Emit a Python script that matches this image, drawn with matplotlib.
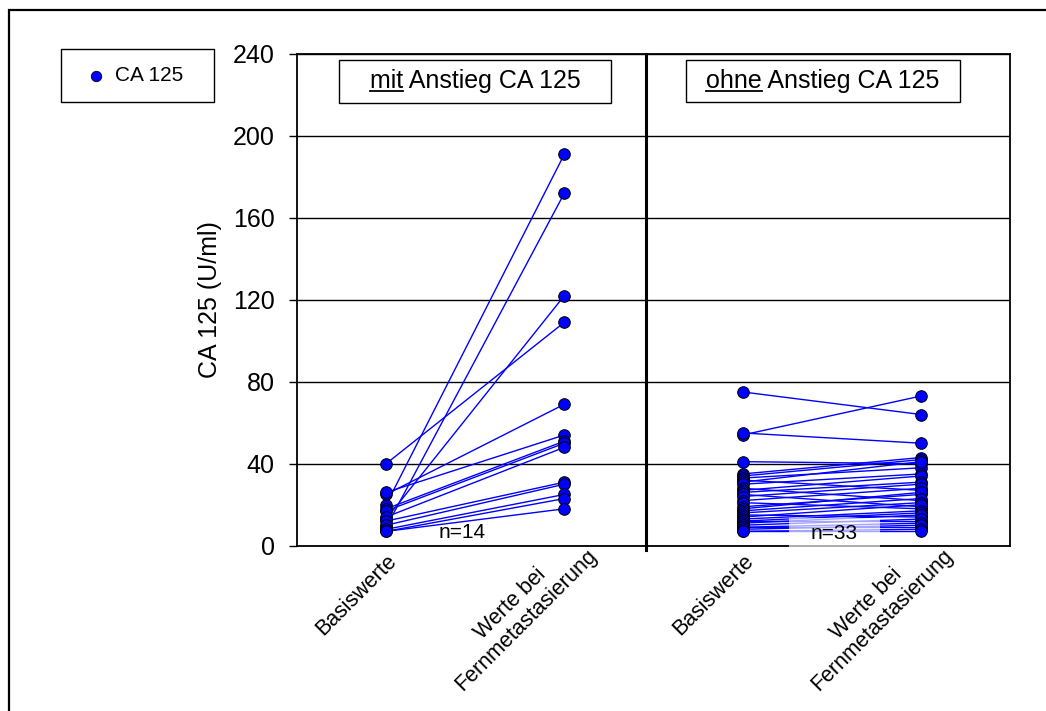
import numpy as np
import matplotlib.pyplot as plt
from matplotlib.patches import Rectangle
from matplotlib.lines import Line2D
from matplotlib.transforms import ScaledTranslation

plt.rcParams['font.family'] = ['Liberation Sans', 'DejaVu Sans']

# CA 125 (U/ml) per patient: baseline vs. value at distant metastasis
mit_basis = [40, 20, 9, 13, 25, 26, 18, 17, 14, 12, 10, 8, 7, 7]
mit_fern = [109, 191, 172, 122, 69, 54, 51, 50, 48, 31, 30, 25, 23, 18]

ohne_basis = [75, 54, 55, 41, 35, 34, 33, 32, 31, 30, 28, 27, 26, 25, 24, 22, 21,
              19, 18, 17, 16, 15, 14, 13, 12, 12, 11, 10, 9, 9, 8, 7, 7]
ohne_fern = [64, 73, 50, 40, 43, 42, 38, 27, 41, 35, 22, 34, 31, 19, 30, 28, 18,
             25, 26, 23, 21, 14, 20, 17, 16, 12, 15, 13, 9, 11, 10, 8, 7]

categories = ['Basiswerte', 'Werte bei\nFernmetastasierung',
              'Basiswerte', 'Werte bei\nFernmetastasierung']
panel_titles = [('mit', ' Anstieg CA 125'), ('ohne', ' Anstieg CA 125')]
y_ticks = [0, 40, 80, 120, 160, 200, 240]

BLUE = '#0000FF'

fig = plt.figure(figsize=(10.46, 7.11), dpi=100)
ax = fig.add_axes([297 / 1046, 1 - 545.7 / 711, 713 / 1046, 492 / 711])

x_pos = np.arange(1, len(categories) + 1)

# paired lines first, dots on top
for basis, fern, (x0, x1) in [(mit_basis, mit_fern, x_pos[:2]),
                              (ohne_basis, ohne_fern, x_pos[2:])]:
    for b, f in zip(basis, fern):
        ax.plot([x0, x1], [b, f], color=BLUE, lw=1.0, zorder=3)
    ax.scatter(np.full(len(basis), x0), basis, s=70, color=BLUE,
               edgecolors='black', linewidths=0.7, zorder=4)
    ax.scatter(np.full(len(fern), x1), fern, s=70, color=BLUE,
               edgecolors='black', linewidths=0.7, zorder=4)

ax.set_xlim(0.5, 4.5)
ax.set_ylim(0, 240)
ax.set_yticks(y_ticks)
ax.yaxis.grid(True, color='black', lw=1.0, zorder=1)
ax.set_axisbelow(True)
ax.tick_params(axis='y', direction='out', length=6, width=1, labelsize=18, pad=10)
ax.tick_params(axis='x', length=0, pad=4)
for s in ax.spines.values():
    s.set_linewidth(1.3)

ax.set_ylabel('CA 125 (U/ml)', fontsize=18, labelpad=8)

ax.set_xticks(x_pos)
ax.set_xticklabels(categories, rotation=45, ha='right', va='top',
                   rotation_mode='anchor', fontsize=15.5, multialignment='center',
                   linespacing=1.1)
# rotated labels: single-line and two-line ones sit at different offsets
offsets = {1: (0, 1), 2: (6, 22)}
for lab in ax.get_xticklabels():
    n_lines = lab.get_text().count('\n') + 1
    dx, dy = offsets[n_lines]
    lab.set_transform(lab.get_transform() +
                      ScaledTranslation(dx / 100, dy / 100, fig.dpi_scale_trans))

# divider between the two groups
ax.plot([2.46, 2.46], [-2, 240], color='black', lw=2.2, clip_on=False, zorder=5)

# panel headers
headers = []
for xc, (word, rest), pad, asp in zip([1.5, 3.45], panel_titles,
                                      [1.22, 0.8], [0.3, 0.45]):
    t = ax.text(xc, 226.5, word + rest, fontsize=18, ha='center', va='center',
                zorder=6,
                bbox=dict(boxstyle='square,pad=%.2f' % pad, mutation_aspect=asp,
                          fc='white', ec='black', lw=1.0))
    headers.append((t, word))

# group sizes
ax.text(1.425, 4.0, 'n=14', fontsize=15, ha='center', va='baseline', zorder=6)
ax.text(3.515, 3.3, 'n=33', fontsize=15, ha='center', va='baseline', zorder=7,
        bbox=dict(boxstyle='square,pad=1.05', mutation_aspect=0.25,
                  fc='white', ec='none', alpha=0.65))

# legend box
fig.add_artist(Rectangle((61 / 1046, 1 - 102 / 711), 153 / 1046, 53 / 711,
                         transform=fig.transFigure, fill=False, ec='black', lw=1.0))
fig.add_artist(Line2D([96 / 1046], [1 - 75.5 / 711], transform=fig.transFigure,
                      marker='o', ms=7.5, mfc=BLUE, mec='black', mew=0.6, ls='none'))
fig.text(115 / 1046, 1 - 75.5 / 711, 'CA 125', fontsize=15, ha='left', va='center')

# outer frame (runs off the right and bottom edges)
fig.add_artist(Rectangle((9 / 1046, -0.1), 1.2, 0.1 + 1 - 10 / 711,
                         transform=fig.transFigure, fill=False, ec='black', lw=1.6))

# underline the first word of each header
fig.canvas.draw()
renderer = fig.canvas.get_renderer()
for t, word in headers:
    full = t.get_window_extent(renderer)
    probe = fig.text(0, 0, word, fontsize=18)
    w = probe.get_window_extent(renderer).width
    probe.remove()
    y_line = full.y0 + 2.0
    inv = fig.transFigure.inverted()
    (fx0, fy), (fx1, _) = inv.transform([(full.x0, y_line), (full.x0 + w, y_line)])
    fig.add_artist(Line2D([fx0, fx1], [fy, fy], transform=fig.transFigure,
                          color='black', lw=1.3, zorder=10))

fig.savefig('out.png', dpi=100)
